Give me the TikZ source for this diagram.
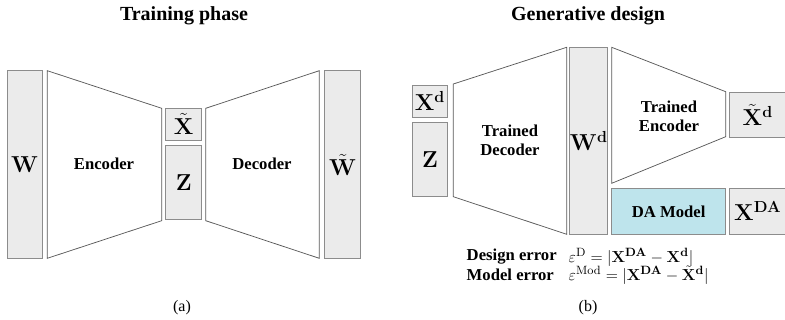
\documentclass[tikz,border=0pt]{standalone}
\usepackage[no-math]{fontspec}
\setmainfont{Liberation Serif}
\usepackage{amsmath}
\usepackage{xcolor}
\usetikzlibrary{positioning}

\definecolor{boxgray}{RGB}{235,235,235}
\definecolor{edgegray}{RGB}{140,140,140}
\definecolor{dablue}{RGB}{190,228,236}

\begin{document}
\begin{tikzpicture}[x=0.75pt,y=-0.75pt,
	var/.style={draw=edgegray, fill=boxgray, line width=0.8pt, inner sep=0pt,
		font=\fontsize{17}{20}\selectfont},
	net/.style={draw=black!65, line width=0.55pt, fill=white},
	lbl/.style={font=\fontsize{12.5}{14}\selectfont\bfseries, align=center},
	heading/.style={font=\fontsize{15}{18}\selectfont\bfseries},
	sublbl/.style={font=\fontsize{12.5}{14}\selectfont},
	panel/.style={font=\fontsize{12}{14}\selectfont}]
	\useasboundingbox (0,0) rectangle (785,320);

	% training phase
	\node[heading] (ttrain) at (184,16) {Training phase};
	\node[var, minimum width=35.3*0.75pt, minimum height=187.6*0.75pt] (w) at (24.7,164.5) {$\mathbf{W}$};
	\node[var, minimum width=36*0.75pt, minimum height=32*0.75pt] (xt) at (183.7,124.3) {$\tilde{\mathbf{X}}$};
	\node[var, minimum width=36*0.75pt, minimum height=74*0.75pt] (z) at (183.7,182.7) {$\mathbf{Z}$};
	\node[var, minimum width=35.7*0.75pt, minimum height=187.6*0.75pt] (wt) at (342.8,164.5) {$\tilde{\mathbf{W}}$};

	\draw[net] (47.3,70.7) -- (161.7,108.3) -- (161.7,220.7) -- (47.3,258.3) -- cycle;
	\draw[net] (205.7,108.3) -- (319.3,70.7) -- (319.3,258.3) -- (205.7,220.7) -- cycle;
	\node[lbl] (enc) at (104,164) {Encoder};
	\node[lbl] (dec) at (262,164) {Decoder};
	\node[panel] (capa) at (182,308) {(a)};

	% generative design
	\node[heading] (tgen) at (588,16) {Generative design};
	\node[var, minimum width=35.4*0.75pt, minimum height=32.3*0.75pt] (xd) at (430,101.2) {$\mathbf{X}^{\mathbf{d}}$};
	\node[var, minimum width=35.4*0.75pt, minimum height=73.7*0.75pt] (zd) at (430,159.2) {$\mathbf{Z}$};
	\node[var, minimum width=35.7*0.75pt, minimum height=187*0.75pt] (wd) at (588.8,140.8) {$\mathbf{W}^{\mathbf{d}}$};
	\node[var, minimum width=57*0.75pt, minimum height=45.4*0.75pt] (xtd) at (757.8,115) {$\tilde{\mathbf{X}}^{\mathbf{d}}$};
	\node[var, minimum width=57*0.75pt, minimum height=46*0.75pt] (xda) at (757.8,211.3) {$\mathbf{X}^{\mathbf{DA}}$};
	\node[var, fill=dablue, minimum width=114*0.75pt, minimum height=46*0.75pt,
		font=\fontsize{12.5}{14}\selectfont\bfseries] (da) at (668.7,211.3) {DA Model};

	\draw[net] (453.3,84) -- (566.7,47.3) -- (566.7,234.3) -- (453.3,196.7) -- cycle;
	\draw[net] (611.7,47.3) -- (725.7,91.7) -- (725.7,136.7) -- (611.7,183.3) -- cycle;
	\node[lbl] (tdec) at (510,140) {Trained\\Decoder};
	\node[lbl] (tenc) at (669,116) {Trained\\Encoder};

	% error measures
	\node[lbl, anchor=west] (derr) at (462,257) {Design error};
	\node[lbl, anchor=west] (merr) at (462,275) {Model error};
	\node[sublbl, anchor=west] (deq) at (564,257) {$\varepsilon^{\mathrm{D}} = |\mathbf{X}^{\mathbf{DA}} - \mathbf{X}^{\mathbf{d}}|$};
	\node[sublbl, anchor=west] (meq) at (564,275) {$\varepsilon^{\mathrm{Mod}} = |\mathbf{X}^{\mathbf{DA}} - \tilde{\mathbf{X}}^{\mathbf{d}}|$};
	\node[panel] (capb) at (588,308) {(b)};
\end{tikzpicture}
\end{document}
